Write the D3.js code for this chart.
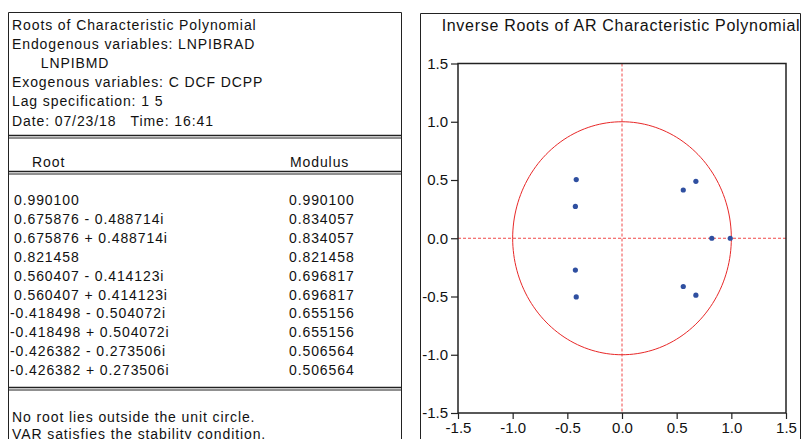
<!DOCTYPE html>
<html>
<head>
<meta charset="utf-8">
<title>Inverse Roots of AR Characteristic Polynomial</title>
<script src="https://d3js.org/d3.v7.min.js"></script>
<style>
  body { margin: 0; background: #fff; }
  text { font-family: "Liberation Sans", Arial, sans-serif; fill: #111; }
</style>
</head>
<body>
<div id="chart"></div>
<script>
  // table header text
  const headerLines = [
    "Roots of Characteristic Polynomial",
    "Endogenous variables: LNPIBRAD",
    "      LNPIBMD",
    "Exogenous variables: C DCF DCPP",
    "Lag specification: 1 5",
    "Date: 07/23/18   Time: 16:41"
  ];
  const footerLines = [
    "No root lies outside the unit circle.",
    "VAR satisfies the stability condition."
  ];

  // roots (real / imaginary parts) and moduli
  const rootRe = [0.990100, 0.675876, 0.675876, 0.821458, 0.560407, 0.560407, -0.418498, -0.418498, -0.426382, -0.426382];
  const rootIm = [0, -0.488714, 0.488714, 0, -0.414123, 0.414123, -0.504072, 0.504072, -0.273506, 0.273506];
  const modulus = [0.990100, 0.834057, 0.834057, 0.821458, 0.696817, 0.696817, 0.655156, 0.655156, 0.506564, 0.506564];

  const axisTicks = [-1.5, -1.0, -0.5, 0.0, 0.5, 1.0, 1.5];

  const W = 804, H = 439;
  const svg = d3.select("#chart").append("svg")
    .attr("width", W).attr("height", H);

  const fmtRoot = (re, im) => im === 0 ? re.toFixed(6)
    : re.toFixed(6) + (im < 0 ? " - " : " + ") + Math.abs(im).toFixed(6) + "i";

  // ---- left: table ----
  const tbl = svg.append("g").style("letter-spacing", "0.9px");
  tbl.append("path")
    .attr("d", "M8.5,450 V12.5 H401.5 V450")
    .attr("fill", "none").attr("stroke", "#222").attr("stroke-width", 1);

  tbl.selectAll(".hdr")
    .data(headerLines)
    .enter().append("text")
    .attr("class", "hdr")
    .attr("x", 12)
    .attr("y", (d, i) => 29.5 + i * 19.2)
    .style("font-size", "14px")
    .style("white-space", "pre")
    .text(d => d);

  function doubleRule(y) {
    tbl.append("line").attr("x1", 9).attr("x2", 401).attr("y1", y).attr("y2", y)
      .attr("stroke", "#222").attr("stroke-width", 1.6);
    tbl.append("line").attr("x1", 9).attr("x2", 401).attr("y1", y + 2.5).attr("y2", y + 2.5)
      .attr("stroke", "#222").attr("stroke-width", 1);
  }
  doubleRule(135.5);
  doubleRule(171.5);
  doubleRule(387.5);

  tbl.append("text").attr("x", 32).attr("y", 167).style("font-size", "14px").text("Root");
  tbl.append("text").attr("x", 290).attr("y", 167).style("font-size", "14px").text("Modulus");

  const rowY = i => 205 + i * 18.9;
  tbl.selectAll(".root")
    .data(rootRe)
    .enter().append("text")
    .attr("class", "root")
    .attr("x", (d, i) => d < 0 ? 10 : 14)
    .attr("y", (d, i) => rowY(i))
    .style("font-size", "14px")
    .text((d, i) => fmtRoot(d, rootIm[i]));

  tbl.selectAll(".mod")
    .data(modulus)
    .enter().append("text")
    .attr("class", "mod")
    .attr("x", 289)
    .attr("y", (d, i) => rowY(i))
    .style("font-size", "14px")
    .text(d => d.toFixed(6));

  tbl.selectAll(".ftr")
    .data(footerLines)
    .enter().append("text")
    .attr("class", "ftr")
    .attr("x", 12)
    .attr("y", (d, i) => 422 + i * 16.5)
    .style("font-size", "14px")
    .text(d => d);

  // ---- right: inverse roots graph ----
  svg.append("path")
    .attr("d", "M420.5,450 V13.5 H800.5 V450")
    .attr("fill", "none").attr("stroke", "#222").attr("stroke-width", 1);

  svg.append("text")
    .attr("x", 621).attr("y", 30.5)
    .attr("text-anchor", "middle")
    .style("font-size", "16px")
    .style("letter-spacing", "0.7px")
    .text("Inverse Roots of AR Characteristic Polynomial");

  const x = d3.scaleLinear().domain([-1.5, 1.5]).range([458, 786]);
  const y = d3.scaleLinear().domain([-1.5, 1.5]).range([413, 63.5]);

  const plot = svg.append("g");

  // dashed zero lines
  plot.append("line")
    .attr("x1", x(-1.5)).attr("x2", x(1.5)).attr("y1", y(0)).attr("y2", y(0))
    .attr("stroke", "#f04848").attr("stroke-width", 1).attr("stroke-dasharray", "3,2");
  plot.append("line")
    .attr("x1", x(0)).attr("x2", x(0)).attr("y1", y(1.5)).attr("y2", y(-1.5))
    .attr("stroke", "#f04848").attr("stroke-width", 1).attr("stroke-dasharray", "3,2");

  // unit circle
  const circ = d3.range(0, 361, 2).map(a => [Math.cos(a * Math.PI / 180), Math.sin(a * Math.PI / 180)]);
  plot.append("path")
    .datum(circ)
    .attr("d", d3.line().x(d => x(d[0])).y(d => y(d[1])))
    .attr("fill", "none").attr("stroke", "#e82828").attr("stroke-width", 1);

  // roots
  plot.selectAll(".pt")
    .data(rootRe)
    .enter().append("circle")
    .attr("class", "pt")
    .attr("cx", d => x(d))
    .attr("cy", (d, i) => y(rootIm[i]))
    .attr("r", 2.6)
    .attr("fill", "#2f4fa0");

  // frame
  plot.append("rect")
    .attr("x", x(-1.5)).attr("y", y(1.5))
    .attr("width", x(1.5) - x(-1.5)).attr("height", y(-1.5) - y(1.5))
    .attr("fill", "none").attr("stroke", "#222").attr("stroke-width", 1.5);

  const tf = d => d.toFixed(1);
  const xAxis = svg.append("g")
    .attr("transform", `translate(0,${y(-1.5)})`)
    .call(d3.axisBottom(x).tickValues(axisTicks).tickFormat(tf).tickSize(6).tickPadding(3));
  const yAxis = svg.append("g")
    .attr("transform", `translate(${x(-1.5)},0)`)
    .call(d3.axisLeft(y).tickValues(axisTicks).tickFormat(tf).tickSize(7).tickPadding(3));

  [xAxis, yAxis].forEach(g => {
    g.select(".domain").remove();
    g.selectAll("line").attr("stroke", "#222").attr("stroke-width", 1.2);
    g.selectAll("text").style("font-size", "15px")
      .style("font-family", "'Liberation Sans', Arial, sans-serif").attr("fill", "#111");
  });
</script>
</body>
</html>
